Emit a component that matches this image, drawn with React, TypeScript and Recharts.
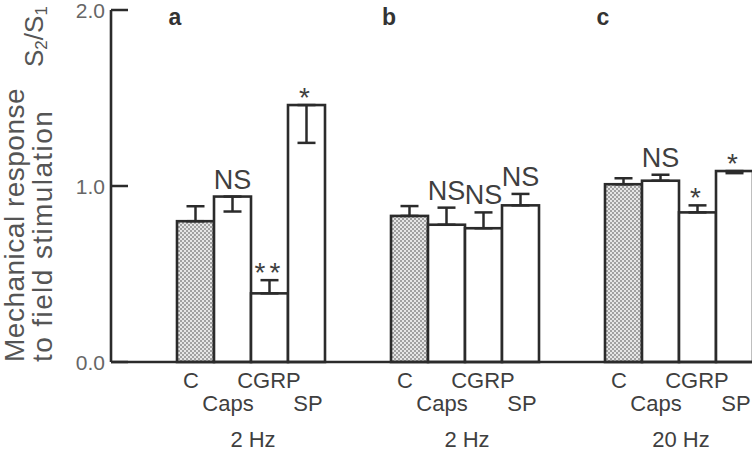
import { Bar, BarChart, ErrorBar, XAxis, YAxis } from "recharts"

// panel letters and stimulation frequency under each group
const categories = ["a", "b", "c"]
const freqLabels = ["2 Hz", "2 Hz", "20 Hz"]

// S2/S1 ratios
const controlValues = [0.8, 0.83, 1.01]
const capsValues = [0.94, 0.78, 1.03]
const cgrpValues = [0.39, 0.76, 0.85]
const spValues = [1.46, 0.89, 1.085]

// error as [below, above]
const controlErrors = [[0, 0.085], [0, 0.056], [0, 0.034]]
const capsErrors = [[0.085, 0], [0, 0.097], [0, 0.034]]
const cgrpErrors = [[0, 0.075], [0, 0.09], [0, 0.04]]
const spErrors = [[0.215, 0], [0, 0.065], [0.012, 0]]

// significance marks
const capsSig = ["NS", "NS", "NS"]
const cgrpSig = ["**", "NS", "*"]
const spSig = ["*", "NS", "*"]

const yTicks = [0, 1, 2]

const data = categories.map((group, i) => ({
    group,
    control: controlValues[i],
    controlErr: controlErrors[i],
    controlSig: "",
    caps: capsValues[i],
    capsErr: capsErrors[i],
    capsSig: capsSig[i],
    cgrp: cgrpValues[i],
    cgrpErr: cgrpErrors[i],
    cgrpSig: cgrpSig[i],
    sp: spValues[i],
    spErr: spErrors[i],
    spSig: spSig[i],
}))

const FONT = "'Liberation Sans', Arial, sans-serif"
const INK = "#2b2b2b"
const TEXT = "#3f3f3f"

const barShape = (key: string) => (props: any) => {
    const { x, y, width, height, fill, payload } = props
    const value = payload[key]
    const err = payload[key + "Err"]
    const sig = payload[key + "Sig"]
    const errTop = y - (err[1] * height) / value
    const isStar = sig.startsWith("*")
    return (
        <g>
            <rect x={x} y={y} width={width} height={height} fill={fill} stroke={INK} strokeWidth={2.6} />
            {sig && (
                <text
                    x={x + width / 2}
                    y={isStar ? errTop + 2 : errTop - 8}
                    textAnchor="middle"
                    fontFamily={FONT}
                    fontSize={isStar ? 28 : 27}
                    letterSpacing={isStar ? 4 : 0}
                    fill={TEXT}
                >
                    {sig}
                </text>
            )}
        </g>
    )
}

const YTick = (props: any) => {
    const { x, y, payload } = props
    return (
        <g>
            <line x1={x + 6} x2={x + 23} y1={y} y2={y} stroke={INK} strokeWidth={2.5} />
            <text x={x} y={y} dy={7.5} textAnchor="end" fontFamily={FONT} fontSize={21} fill="#666">
                {Number(payload.value).toFixed(1)}
            </text>
        </g>
    )
}

const XTick = (props: any) => {
    const { x, y, payload } = props
    const i = categories.indexOf(payload.value)
    const t = { fontFamily: FONT, fontSize: 22, fill: TEXT, textAnchor: "middle" as const }
    return (
        <g>
            <text x={x - 76} y={y - 337} fontFamily={FONT} fontSize={23} fontWeight="bold" fill="#333" textAnchor="middle">
                {payload.value}
            </text>
            <text x={x - 60} y={y + 26} {...t}>C</text>
            <text x={x + 18} y={y + 26} {...t}>CGRP</text>
            <text x={x - 23} y={y + 49} {...t}>Caps</text>
            <text x={x + 57} y={y + 49} {...t}>SP</text>
            <text x={x + 2} y={y + 85} {...t}>{freqLabels[i]}</text>
        </g>
    )
}

const yLabel = () => (
    <g fontFamily={FONT} fill="#555" fontSize={28}>
        <text x={24} y={362} transform="rotate(-90 24 362)" letterSpacing={0.5}>Mechanical response</text>
        <text x={52} y={362} transform="rotate(-90 52 362)" letterSpacing={1.4}>to field stimulation</text>
        <text x={43} y={67} transform="rotate(-90 43 67)" fontSize={26}>
            S<tspan fontSize={17} dy={4}>2</tspan>
            <tspan dy={-4}>/S</tspan>
            <tspan fontSize={17} dy={4}>1</tspan>
        </text>
    </g>
)

export default function App() {
    return (
        <div style={{ width: 752, height: 453, overflow: "hidden", position: "relative" }}>
            <style>{"body{margin:0}"}</style>
            <svg width={0} height={0} style={{ position: "absolute" }}>
                <defs>
                    <pattern id="stipple" width={4} height={4} patternUnits="userSpaceOnUse">
                        <rect width={4} height={4} fill="#e6e6e6" />
                        <circle cx={1} cy={1} r={0.8} fill="#4a4a4a" />
                        <circle cx={3} cy={3} r={0.8} fill="#4a4a4a" />
                    </pattern>
                </defs>
            </svg>
            <BarChart
                width={800}
                height={453}
                data={data}
                margin={{ top: 10, right: 14, bottom: 0, left: 0 }}
                barCategoryGap={33}
                barGap={0}
            >
                <XAxis
                    dataKey="group"
                    height={91}
                    padding={{ left: 33, right: 0 }}
                    axisLine={{ stroke: INK, strokeWidth: 2.6 }}
                    tickLine={false}
                    tickSize={0}
                    tickMargin={0}
                    tick={<XTick />}
                    interval={0}
                />
                <YAxis
                    width={111}
                    domain={[0, 2]}
                    ticks={yTicks}
                    axisLine={{ stroke: INK, strokeWidth: 2.6 }}
                    tickLine={false}
                    tickSize={0}
                    tickMargin={6}
                    tick={<YTick />}
                    label={yLabel}
                />
                <Bar dataKey="control" fill="url(#stipple)" isAnimationActive={false} shape={barShape("control")}>
                    <ErrorBar dataKey="controlErr" width={9} stroke={INK} strokeWidth={2.5} direction="y" />
                </Bar>
                <Bar dataKey="caps" fill="#fff" isAnimationActive={false} shape={barShape("caps")}>
                    <ErrorBar dataKey="capsErr" width={9} stroke={INK} strokeWidth={2.5} direction="y" />
                </Bar>
                <Bar dataKey="cgrp" fill="#fff" isAnimationActive={false} shape={barShape("cgrp")}>
                    <ErrorBar dataKey="cgrpErr" width={9} stroke={INK} strokeWidth={2.5} direction="y" />
                </Bar>
                <Bar dataKey="sp" fill="#fff" isAnimationActive={false} shape={barShape("sp")}>
                    <ErrorBar dataKey="spErr" width={9} stroke={INK} strokeWidth={2.5} direction="y" />
                </Bar>
            </BarChart>
        </div>
    )
}
